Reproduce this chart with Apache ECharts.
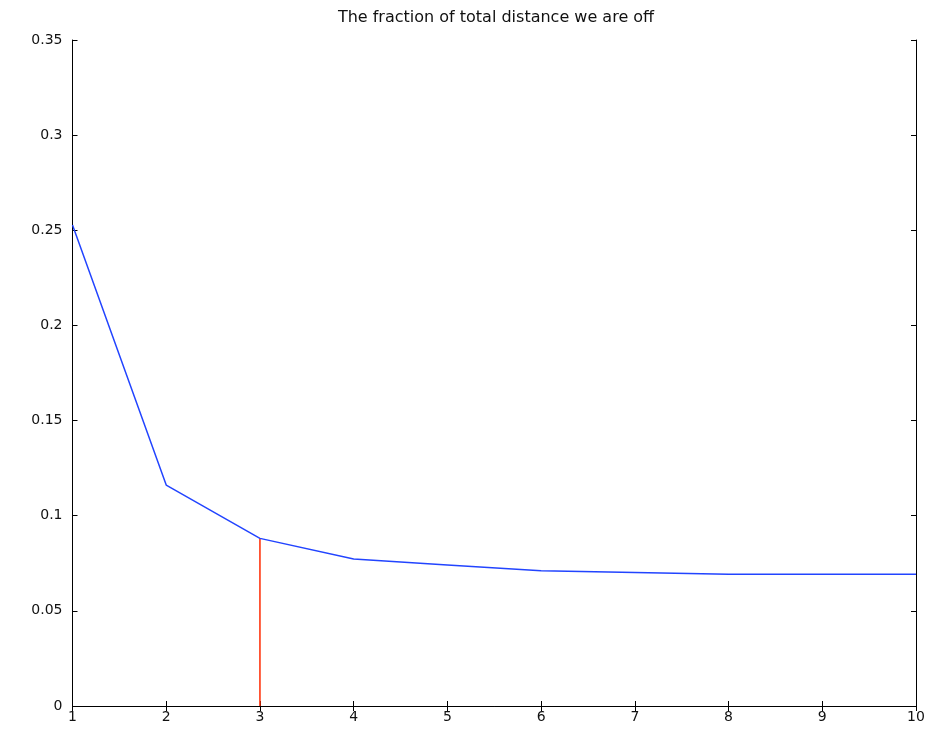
<!DOCTYPE html>
<html>
<head>
<meta charset="utf-8">
<script src="https://cdn.jsdelivr.net/npm/echarts@6/dist/echarts.min.js"></script>
<style>
  html, body { margin: 0; padding: 0; background: #fff; }
  #chart { width: 936px; height: 730px; }
</style>
</head>
<body>
<div id="chart"></div>
<script>
// Iteration number and remaining fraction of the total distance
const iterations = [1, 2, 3, 4, 5, 6, 7, 8, 9, 10];
const fractionOff = [0.2528, 0.1161, 0.0881, 0.0772, 0.0741, 0.0711, 0.0702, 0.0692, 0.0692, 0.0692];
// Iteration picked out with a vertical marker
const markedIteration = 3;
const yTickLabels = ['0', '0.05', '0.1', '0.15', '0.2', '0.25', '0.3', '0.35'];

const font = 'DejaVu Sans, Liberation Sans, sans-serif';
const markedValue = fractionOff[iterations.indexOf(markedIteration)];

const boxAxis = {
  axisLine: { show: true, lineStyle: { color: '#000', width: 1 } },
  axisTick: { show: true, inside: true, length: 5, lineStyle: { color: '#000' } },
  splitLine: { show: false }
};

const chart = echarts.init(document.getElementById('chart'), null, { renderer: 'canvas' });
chart.setOption({
  animation: false,
  backgroundColor: '#fff',
  title: {
    text: 'The fraction of total distance we are off',
    left: 491,
    top: 5,
    textAlign: 'center',
    textStyle: { fontFamily: font, fontSize: 16, fontWeight: 'normal', color: '#111' }
  },
  grid: { left: 72.5, right: 20, top: 40, bottom: 24, containLabel: false },
  xAxis: [
    Object.assign({
      type: 'value', position: 'bottom', min: 1, max: 10, interval: 1,
      axisLabel: { color: '#111', fontFamily: font, fontSize: 14, margin: 4 }
    }, boxAxis),
    Object.assign({
      type: 'value', position: 'top', min: 1, max: 10, interval: 1,
      axisLabel: { show: false }
    }, boxAxis)
  ],
  yAxis: [
    Object.assign({
      type: 'value', position: 'left', min: 0, max: 0.35, interval: 0.05,
      axisLabel: {
        color: '#111', fontFamily: font, fontSize: 14, margin: 10,
        formatter: (v) => yTickLabels[Math.round(v / 0.05)]
      }
    }, boxAxis),
    Object.assign({
      type: 'value', position: 'right', min: 0, max: 0.35, interval: 0.05,
      axisLabel: { show: false }
    }, boxAxis)
  ],
  series: [
    {
      type: 'line',
      xAxisIndex: 0, yAxisIndex: 0,
      data: iterations.map((x, i) => [x, fractionOff[i]]),
      showSymbol: false,
      lineStyle: { color: '#2244ff', width: 1.5 },
      z: 3
    },
    {
      type: 'line',
      xAxisIndex: 0, yAxisIndex: 0,
      data: [[markedIteration, 0], [markedIteration, markedValue]],
      showSymbol: false,
      lineStyle: { color: '#ff2a00', width: 1.5 },
      z: 2
    }
  ]
});
</script>
</body>
</html>
